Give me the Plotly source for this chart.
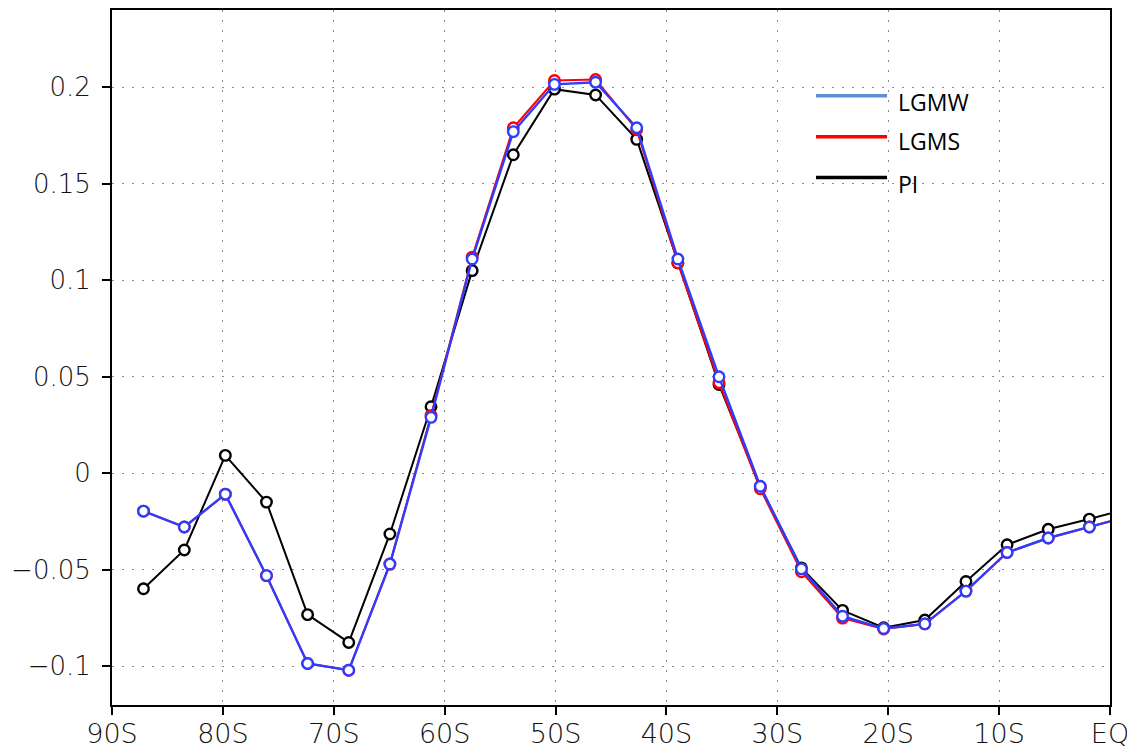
import plotly.graph_objects as go

# Gaussian-grid latitudes (degrees, negative = south); last one north of EQ (clipped)
lat = [-87.16, -83.48, -79.78, -76.07, -72.36, -68.65, -64.94, -61.23, -57.52, -53.81,
       -50.10, -46.39, -42.68, -38.97, -35.26, -31.54, -27.83, -24.12, -20.41, -16.70,
       -12.99, -9.28, -5.57, -1.86, 1.86]

pi_vals = [-0.0598, -0.0397, 0.0093, -0.0149, -0.0732, -0.0876, -0.0314, 0.0345, 0.105, 0.165,
           0.199, 0.196, 0.173, 0.109, 0.046, -0.007, -0.049, -0.071, -0.080, -0.076,
           -0.056, -0.037, -0.029, -0.0237, -0.018]

lgmw_vals = [-0.0196, -0.0278, -0.0108, -0.053, -0.0985, -0.102, -0.047, 0.029, 0.111, 0.177,
             0.2015, 0.2026, 0.179, 0.111, 0.050, -0.0067, -0.0495, -0.074, -0.0804, -0.078,
             -0.061, -0.041, -0.0335, -0.0278, -0.022]

lgms_vals = [-0.0196, -0.0278, -0.0108, -0.053, -0.0985, -0.102, -0.047, 0.030, 0.112, 0.179,
             0.2035, 0.204, 0.178, 0.109, 0.047, -0.008, -0.051, -0.075, -0.0806, -0.078,
             -0.061, -0.041, -0.0335, -0.0278, -0.022]

x_tickvals = [-90, -80, -70, -60, -50, -40, -30, -20, -10, 0]
x_ticktext = ["90S", "80S", "70S", "60S", "50S", "40S", "30S", "20S", "10S", "EQ"]
y_tickvals = [-0.1, -0.05, 0, 0.05, 0.1, 0.15, 0.2]
y_ticktext = ["\u22120.1", "\u22120.05", "0", "0.05", "0.1", "0.15", "0.2"]

legend_names = ["LGMW", "LGMS", "PI"]
legend_colors = ["#5b8fd6", "#ff0000", "#000000"]

fig = go.Figure()

def add(vals, color, width):
    fig.add_trace(go.Scatter(
        x=lat, y=vals, mode="lines+markers",
        line=dict(color=color, width=width),
        marker=dict(symbol="circle", size=10.5, color="white",
                    line=dict(color=color, width=2.4)),
        showlegend=False, cliponaxis=True))

add(pi_vals, "#000000", 2)
add(lgms_vals, "#ff0000", 2)
add(lgmw_vals, "#2f3cff", 2.4)

# manual legend (lines only)
ys_line = [0.8766, 0.8178, 0.759]
ys_text = [0.868, 0.811, 0.750]
for name, col, yl, yt in zip(legend_names, legend_colors, ys_line, ys_text):
    fig.add_shape(type="line", xref="paper", yref="paper", x0=0.7054, x1=0.7766,
                  y0=yl, y1=yl, line=dict(color=col, width=3.5))
    fig.add_annotation(xref="paper", yref="paper", x=0.7856, y=yt, text=name,
                       showarrow=False, xanchor="left", yanchor="middle",
                       font=dict(family="Open Sans, Liberation Sans, sans-serif", size=23, color="black"))

axis_common = dict(showline=True, linecolor="black", linewidth=2, mirror=True,
                   ticks="outside", ticklen=8, tickwidth=2, tickcolor="black",
                   showgrid=True, gridcolor="#8a8a8a", griddash="2px,8px", gridwidth=1.2,
                   zeroline=False)

fig.update_xaxes(range=[-90, 0], tickvals=x_tickvals, ticktext=x_ticktext,
                 ticklabelstandoff=-4,
                 tickfont=dict(family="DejaVu Sans, sans-serif", size=27, color="#111111", weight=300),
                 **axis_common)
fig.update_yaxes(range=[-0.12, 0.24], tickvals=y_tickvals, ticktext=y_ticktext,
                 ticklabelstandoff=6,
                 tickfont=dict(family="DejaVu Sans, sans-serif", size=26, color="#111111", weight=300),
                 **axis_common)

# page has an 8px body margin: plot area spans x 112..1110, y 8..705 on screen
fig.update_layout(width=1127, height=745, margin=dict(l=104, r=25, t=0, b=48),
                  plot_bgcolor="white", paper_bgcolor="white")

fig.write_html("out.html")
